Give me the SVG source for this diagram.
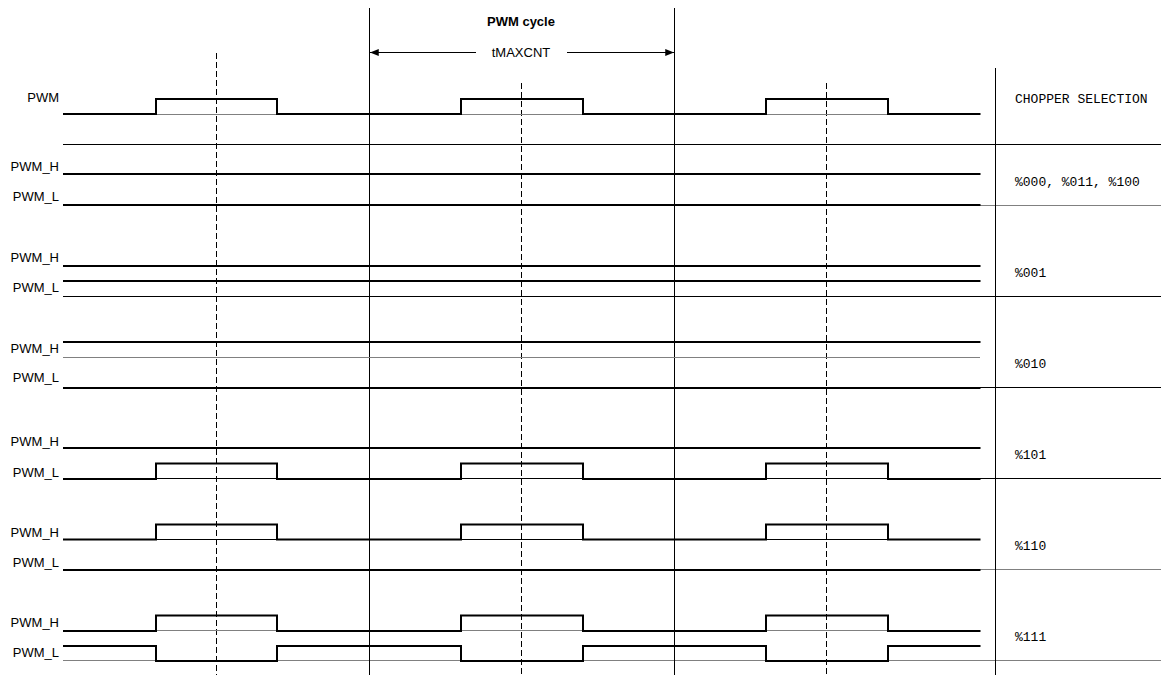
<svg xmlns="http://www.w3.org/2000/svg" width="1161" height="675" viewBox="0 0 1161 675">
<defs>
<marker id="arr" viewBox="0 0 10 8" refX="10" refY="4" markerWidth="9" markerHeight="7" markerUnits="userSpaceOnUse" orient="auto">
<path d="M0,0 L10,4 L0,8 Z" fill="#000"/>
</marker>
<style>
.lbl{font-family:"Liberation Sans",Arial,sans-serif;font-size:13px;fill:#000;text-anchor:end}
.ttl{font-family:"Liberation Sans",Arial,sans-serif;font-size:13px;fill:#000;text-anchor:middle}
.mono{font-family:"Liberation Mono","Courier New",monospace;font-size:13px;fill:#000}
.wave{fill:none;stroke:#000;stroke-width:2}
.thin{fill:none;stroke:#000;stroke-width:1}
.gray{fill:none;stroke:#808080;stroke-width:1}
.dash{fill:none;stroke:#000;stroke-width:1;stroke-dasharray:6,3}
</style>
</defs>
<rect width="1161" height="675" fill="#fff"/>

<g id="grid">
<line class="thin" x1="63" y1="144.5" x2="1161" y2="144.5"/>
<line class="gray" x1="63" y1="205.5" x2="1161" y2="205.5"/>
<line class="thin" x1="63" y1="296.5" x2="1161" y2="296.5"/>
<line class="thin" x1="63" y1="387.5" x2="1161" y2="387.5"/>
<line class="thin" x1="63" y1="478.5" x2="1161" y2="478.5"/>
<line class="gray" x1="63" y1="569.5" x2="1161" y2="569.5"/>
<line class="gray" x1="63" y1="660.5" x2="1161" y2="660.5"/>
<line class="thin" x1="369.5" y1="8" x2="369.5" y2="675"/>
<line class="thin" x1="674.5" y1="8" x2="674.5" y2="675"/>
<line class="thin" x1="995.5" y1="68" x2="995.5" y2="675"/>
<line class="dash" x1="216.5" y1="53" x2="216.5" y2="675"/>
<line class="dash" x1="521.5" y1="83" x2="521.5" y2="675"/>
<line class="dash" x1="826.5" y1="83" x2="826.5" y2="675"/>
</g>

<g id="cycle">
<text class="ttl" x="521" y="26" font-weight="bold">PWM cycle</text>
<text class="ttl" x="521" y="57">tMAXCNT</text>
<line class="thin" x1="476" y1="52.5" x2="370" y2="52.5" marker-end="url(#arr)"/>
<line class="thin" x1="567" y1="52.5" x2="674" y2="52.5" marker-end="url(#arr)"/>
</g>

<g id="row-pwm">
<text class="lbl" x="59" y="102">PWM</text>
<line class="gray" x1="63" y1="114.5" x2="980" y2="114.5"/>
<path class="wave" d="M63,114 H156 V99 H277 V114 H461 V99 H583 V114 H766 V99 H888 V114 H980.5"/>
<text class="mono" x="1015" y="103">CHOPPER SELECTION</text>
</g>

<g id="row-000">
<text class="lbl" x="59" y="170.5">PWM_H</text>
<text class="lbl" x="59" y="201">PWM_L</text>
<path class="wave" d="M63,174 H980.5"/>
<path class="wave" d="M63,205 H980.5"/>
<text class="mono" x="1015" y="186">%000, %011, %100</text>
</g>

<g id="row-001">
<text class="lbl" x="59" y="262">PWM_H</text>
<text class="lbl" x="59" y="292">PWM_L</text>
<path class="wave" d="M63,266 H980.5"/>
<path class="wave" d="M63,281 H980.5"/>
<text class="mono" x="1015" y="277">%001</text>
</g>

<g id="row-010">
<text class="lbl" x="59" y="353">PWM_H</text>
<text class="lbl" x="59" y="382">PWM_L</text>
<path class="wave" d="M63,342 H980.5"/>
<line class="gray" x1="63" y1="357.5" x2="980" y2="357.5"/>
<path class="wave" d="M63,388 H980.5"/>
<text class="mono" x="1015" y="368">%010</text>
</g>

<g id="row-101">
<text class="lbl" x="59" y="446">PWM_H</text>
<text class="lbl" x="59" y="477">PWM_L</text>
<path class="wave" d="M63,448 H980.5"/>
<path class="wave" d="M63,479 H156 V463.5 H277 V479 H461 V463.5 H583 V479 H766 V463.5 H888 V479 H980.5"/>
<text class="mono" x="1015" y="459">%101</text>
</g>

<g id="row-110">
<text class="lbl" x="59" y="537">PWM_H</text>
<text class="lbl" x="59" y="567">PWM_L</text>
<line class="thin" x1="63" y1="539.5" x2="980" y2="539.5"/>
<path class="wave" d="M63,539.5 H156 V524.5 H277 V539.5 H461 V524.5 H583 V539.5 H766 V524.5 H888 V539.5 H980.5"/>
<path class="wave" d="M63,570 H980.5"/>
<text class="mono" x="1015" y="550">%110</text>
</g>

<g id="row-111">
<text class="lbl" x="59" y="627">PWM_H</text>
<text class="lbl" x="59" y="657">PWM_L</text>
<line class="gray" x1="63" y1="630.5" x2="980" y2="630.5"/>
<path class="wave" d="M63,631 H156 V615.5 H277 V631 H461 V615.5 H583 V631 H766 V615.5 H888 V631 H980.5"/>
<path class="wave" d="M63,646 H156 V661 H277 V646 H461 V661 H583 V646 H766 V661 H888 V646 H980.5"/>
<text class="mono" x="1015" y="641">%111</text>
</g>
</svg>
